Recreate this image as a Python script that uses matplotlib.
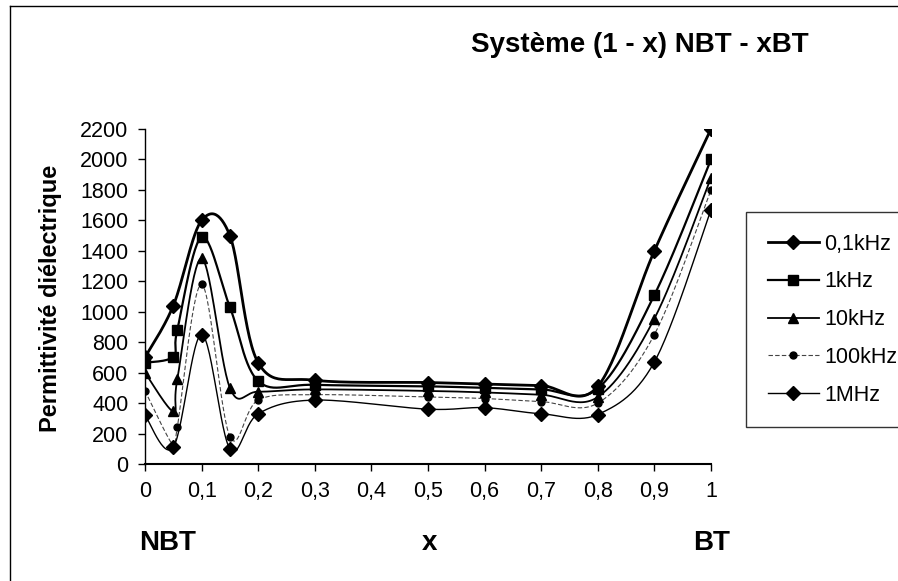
import numpy as np
import matplotlib
matplotlib.use("Agg")
import matplotlib.pyplot as plt
from matplotlib.lines import Line2D

plt.rcParams['font.family'] = ['Liberation Sans', 'DejaVu Sans']

# donnees
x_a = [0, 0.05, 0.1, 0.15, 0.2, 0.3, 0.5, 0.6, 0.7, 0.8, 0.9, 1]
x_b = [0, 0.05, 0.057, 0.1, 0.15, 0.2, 0.3, 0.5, 0.6, 0.7, 0.8, 0.9, 1]

eps_01k = [700, 1040, 1600, 1500, 665, 550, 535, 525, 515, 510, 1400, 2200]
eps_1k = [665, 705, 880, 1490, 1030, 545, 520, 510, 500, 490, 495, 1110, 2000]
eps_10k = [600, 345, 555, 1350, 500, 475, 490, 480, 470, 455, 440, 955, 1880]
eps_100k = [480, 120, 240, 1180, 180, 420, 455, 440, 430, 410, 400, 850, 1800]
eps_1M = [320, 110, 850, 100, 330, 420, 360, 370, 330, 325, 670, 1670]

labels = ["0,1kHz", "1kHz", "10kHz", "100kHz", "1MHz"]
xticks = [0, 0.1, 0.2, 0.3, 0.4, 0.5, 0.6, 0.7, 0.8, 0.9, 1]
xtick_labels = ["0", "0,1", "0,2", "0,3", "0,4", "0,5", "0,6", "0,7", "0,8", "0,9", "1"]
yticks = list(range(0, 2201, 200))


def lisse(x, y, n=30):
    # courbe lissee type Excel (Catmull-Rom)
    p = np.column_stack([x, y]).astype(float)
    p = np.vstack([p[0], p, p[-1]])
    out = []
    t = np.linspace(0, 1, n)
    for i in range(1, len(p) - 2):
        p0, p1, p2, p3 = p[i - 1], p[i], p[i + 1], p[i + 2]
        c1 = p1 + (p2 - p0) / 6
        c2 = p2 - (p3 - p1) / 6
        seg = ((1 - t) ** 3)[:, None] * p1 + (3 * (1 - t) ** 2 * t)[:, None] * c1 \
            + (3 * (1 - t) * t ** 2)[:, None] * c2 + (t ** 3)[:, None] * p2
        out.append(seg)
    out = np.vstack(out)
    return out[:, 0], out[:, 1]


fig = plt.figure(figsize=(8.98, 5.81), dpi=100)
ax = fig.add_axes([145 / 898, 1 - 464 / 581, 566 / 898, 335 / 581])

series = [
    (x_a, eps_01k, 'D', 7, '-', 2.0, 'black'),
    (x_b, eps_1k, 's', 7, '-', 1.6, 'black'),
    (x_b, eps_10k, '^', 7.5, '-', 1.3, 'black'),
    (x_b, eps_100k, 'o', 5, (0, (4, 2)), 0.8, '#444444'),
    (x_a, eps_1M, 'D', 7, '-', 1.0, 'black'),
]

handles = []
for (xs, ys, mk, ms, ls, lw, col), lab in zip(series, labels):
    xl, yl = lisse(xs, ys)
    ax.plot(xl, yl, linestyle=ls, linewidth=lw, color=col, zorder=2)
    ax.plot(xs, ys, linestyle='none', marker=mk, markersize=ms, color='black', zorder=3)
    handles.append(Line2D([0], [0], linestyle=ls, linewidth=lw, color=col,
                          marker=mk, markersize=ms, markerfacecolor='black',
                          markeredgecolor='black'))

ax.set_xlim(0, 1)
ax.set_ylim(0, 2200)
ax.set_xticks(xticks)
ax.set_xticklabels(xtick_labels)
ax.set_yticks(yticks)
ax.tick_params(axis='both', direction='out', length=5, width=1, labelsize=15.5, pad=7)
for s in ['top', 'right']:
    ax.spines[s].set_visible(False)
ax.spines['left'].set_linewidth(1)
ax.spines['bottom'].set_linewidth(1.5)

ax.set_ylabel("Permittivité diélectrique", fontsize=17, fontweight='bold')
ax.yaxis.set_label_coords(-0.147, 0.495)

fig.text(640 / 898, 1 - 45 / 581, "Système (1 - x) NBT - xBT", fontsize=20,
         fontweight='bold', ha='center', va='center')
fig.text(168 / 898, 1 - 543 / 581, "NBT", fontsize=20, fontweight='bold', ha='center', va='center')
fig.text(430 / 898, 1 - 543 / 581, "x", fontsize=20, fontweight='bold', ha='center', va='center')
fig.text(712 / 898, 1 - 543 / 581, "BT", fontsize=20, fontweight='bold', ha='center', va='center')

leg = fig.legend(handles, labels, loc='upper left', bbox_to_anchor=(746 / 898, 1 - 212 / 581),
                 fontsize=15.5, frameon=True, fancybox=False, handlelength=2.4,
                 labelspacing=0.78, borderpad=1.0, handletextpad=0.25, borderaxespad=0)
leg.get_frame().set_edgecolor('black')
leg.get_frame().set_linewidth(1)

# cadre du graphique
fig.add_artist(Line2D([10 / 898, 10 / 898], [0, 1 - 6 / 581], color='black', linewidth=1))
fig.add_artist(Line2D([10 / 898, 1], [1 - 6 / 581, 1 - 6 / 581], color='black', linewidth=1))

fig.savefig("out.png", dpi=100)
